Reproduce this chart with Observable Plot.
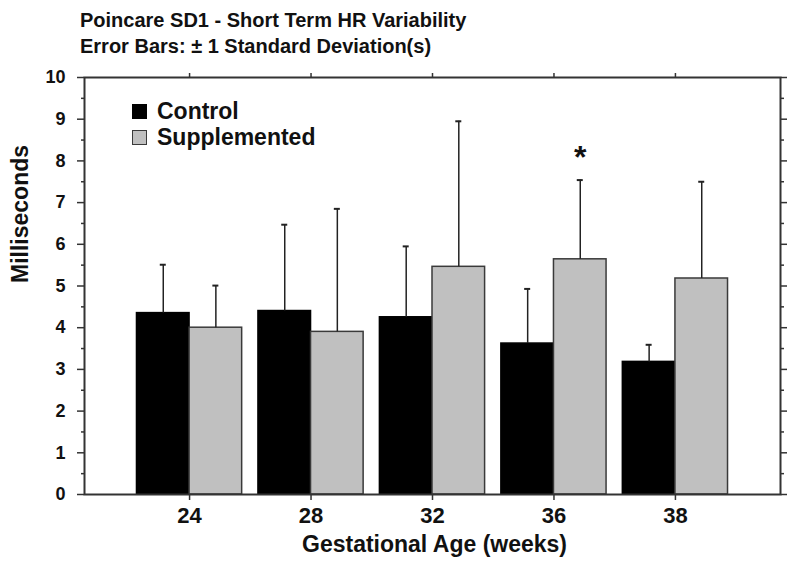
<!DOCTYPE html>
<html>
<head>
<meta charset="utf-8">
<script src="https://cdn.jsdelivr.net/npm/d3@7"></script>
<script src="https://cdn.jsdelivr.net/npm/@observablehq/plot@0.6"></script>
<style>
  html, body { margin: 0; padding: 0; background: #fff; }
  #wrap { position: relative; width: 800px; height: 571px; font-family: "Liberation Sans", Arial, sans-serif; font-weight: bold; color: #111; }
  #title { box-sizing: border-box; height: 62px; padding: 7px 0 0 80px; font-size: 20px; line-height: 26px; }
  #legend { position: absolute; left: 132px; top: 98px; font-size: 23px; }
  #legend .row { display: flex; align-items: center; height: 26px; }
  #legend .sw { width: 15px; height: 15px; margin-right: 10px; box-sizing: border-box; }
  svg { display: block; }
</style>
</head>
<body>
<div id="wrap">
  <div id="title">
    <div>Poincare SD1 - Short Term HR Variability</div>
    <div>Error Bars: ± 1 Standard Deviation(s)</div>
  </div>
  <div id="legend"></div>
  <div id="chart"></div>
</div>
<script>
// ---- data ----
const ages = ["24", "28", "32", "36", "38"];
const groups = ["Control", "Supplemented"];
const controlMean = [4.35, 4.40, 4.25, 3.62, 3.18];
const controlSD   = [1.16, 2.07, 1.70, 1.31, 0.41];
const suppMean    = [4.00, 3.90, 5.46, 5.64, 5.18];
const suppSD      = [1.01, 2.95, 3.49, 1.90, 2.32];
const significant = [{age: "36", group: "Supplemented", label: "*"}];
const yTicks = [0, 1, 2, 3, 4, 5, 6, 7, 8, 9, 10];
const yMinorTicks = [0.5, 1.5, 2.5, 3.5, 4.5, 5.5, 6.5, 7.5, 8.5, 9.5];
const groupFill = {Control: "#000000", Supplemented: "#c0c0c0"};
const groupStroke = {Control: "#000000", Supplemented: "#3a3a3a"};

const control = ages.map((a, i) => ({age: a, group: "Control", value: controlMean[i], sd: controlSD[i]}));
const supp = ages.map((a, i) => ({age: a, group: "Supplemented", value: suppMean[i], sd: suppSD[i]}));
const stars = significant.map(s => {
  const d = (s.group === "Control" ? control : supp).find(r => r.age === s.age);
  return {...s, top: d.value + d.sd};
});

// ---- layout ----
const width = 800, height = 509;
const marginLeft = 84, marginRight = 20, marginTop = 15, marginBottom = 77;
const paddingInner = 0.134, paddingOuter = 0.432;
const step = (width - marginLeft - marginRight) / (ages.length - paddingInner + 2 * paddingOuter);
const bw = step * (1 - paddingInner);
const half = bw / 2, q = bw / 4, cap = 3;
const axisColor = "#333";

const chart = Plot.plot({
  width, height, marginLeft, marginRight, marginTop, marginBottom,
  style: {fontFamily: "Liberation Sans, Arial, sans-serif", fontWeight: "bold", color: "#111", background: "#fff"},
  x: {type: "band", domain: ages, paddingInner, paddingOuter, round: false, axis: null, label: null},
  y: {domain: [0, 10], axis: null, label: null},
  marks: [
    Plot.barY(control, {x: "age", y: "value", fill: groupFill.Control, stroke: groupStroke.Control, strokeWidth: 1.5, insetRight: half}),
    Plot.barY(supp, {x: "age", y: "value", fill: groupFill.Supplemented, stroke: groupStroke.Supplemented, strokeWidth: 1.5, insetLeft: half}),
    Plot.ruleX(control, {x: "age", y1: "value", y2: d => d.value + d.sd, dx: -q, stroke: "#222", strokeWidth: 1.5}),
    Plot.ruleX(supp, {x: "age", y1: "value", y2: d => d.value + d.sd, dx: q, stroke: "#222", strokeWidth: 1.5}),
    Plot.tickY(control, {x: "age", y: d => d.value + d.sd, insetLeft: q - cap, insetRight: 3 * q - cap, stroke: "#222", strokeWidth: 2}),
    Plot.tickY(supp, {x: "age", y: d => d.value + d.sd, insetLeft: 3 * q - cap, insetRight: q - cap, stroke: "#222", strokeWidth: 2}),
    Plot.text(stars, {x: "age", y: "top", text: "label", dx: q, dy: -22, fontSize: 32, fontWeight: "bold", fill: "#111"}),
    Plot.frame({stroke: axisColor, strokeWidth: 2}),
    // left axis
    Plot.axisY(yTicks, {anchor: "left", tickSize: 7, tickPadding: 12, fontSize: 18, fontWeight: "bold", stroke: axisColor, fill: "#111", label: null, strokeWidth: 1.5}),
    Plot.axisY(yMinorTicks, {anchor: "left", tickSize: 3, tickFormat: () => "", stroke: axisColor, label: null, strokeWidth: 1.5}),
    // right axis
    Plot.axisY(yTicks, {anchor: "right", tickSize: 6, tickFormat: () => "", stroke: axisColor, label: null, strokeWidth: 1.5}),
    Plot.axisY(yMinorTicks, {anchor: "right", tickSize: 3, tickFormat: () => "", stroke: axisColor, label: null, strokeWidth: 1.5}),
    // bottom & top axes
    Plot.axisX({anchor: "bottom", tickSize: 6, tickPadding: 7, fontSize: 22, fontWeight: "bold", stroke: axisColor, fill: "#111", label: null, strokeWidth: 1.5}),
    Plot.axisX({anchor: "top", tickSize: 5, tickFormat: () => "", stroke: axisColor, label: null, strokeWidth: 1.5}),
    // axis titles
    Plot.text(["Milliseconds"], {frameAnchor: "left", rotate: -90, dx: -64, dy: -3, fontSize: 23, fontWeight: "bold", fill: "#111"}),
    Plot.text(["Gestational Age (weeks)"], {frameAnchor: "bottom", dy: 57, dx: 2, fontSize: 23, fontWeight: "bold", fill: "#111"})
  ]
});
document.getElementById("chart").appendChild(chart);

// legend
const legend = d3.select("#legend");
groups.forEach(g => {
  const row = legend.append("div").attr("class", "row");
  row.append("div").attr("class", "sw")
    .style("background", groupFill[g])
    .style("border", `1.5px solid ${groupStroke[g]}`);
  row.append("span").text(g);
});
</script>
</body>
</html>
